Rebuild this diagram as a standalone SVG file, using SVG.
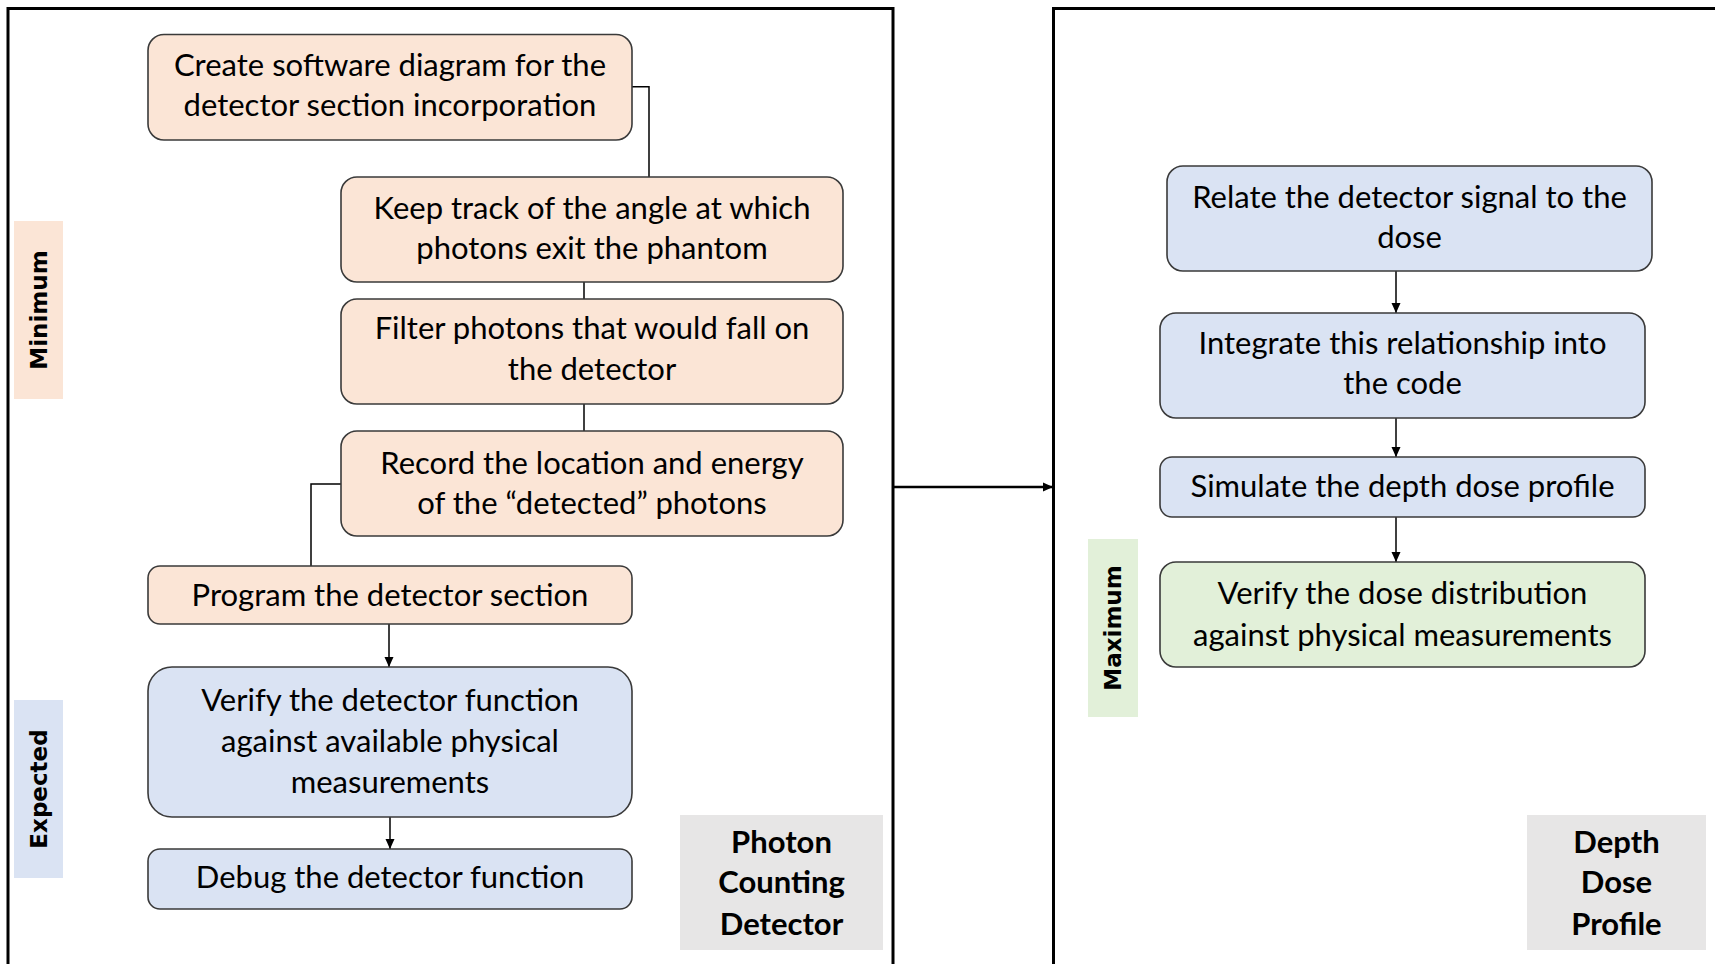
<svg xmlns="http://www.w3.org/2000/svg" width="1715" height="964" viewBox="0 0 1715 964">
<defs>
<marker id="ah" markerUnits="userSpaceOnUse" markerWidth="10" markerHeight="10" viewBox="0 0 10 10" refX="10" refY="5" orient="auto">
<path d="M0,0.5 L10,5 L0,9.5 Z" fill="#000"/>
</marker>
<style>
.frame{fill:none;stroke:#000;stroke-width:3}
.n{stroke:#3a3a3a;stroke-width:1.6}
.peach{fill:#FBE5D6}
.blue{fill:#DAE3F3}
.green{fill:#E2F0D9}
.grey{fill:#E7E6E6}
.t{font-family:Lato,"Liberation Sans",sans-serif;font-size:31px;fill:#000;text-anchor:middle;dominant-baseline:central}
.b{font-weight:bold}
.side{font-family:"DejaVu Sans",Verdana,sans-serif;font-weight:bold;font-size:23px;fill:#000;text-anchor:middle;dominant-baseline:central}
.c{fill:none;stroke:#000;stroke-width:1.5}
.ca{fill:none;stroke:#000;stroke-width:1.5;marker-end:url(#ah)}
</style>
</defs>
<rect class="frame" x="8" y="8.5" width="885" height="980"/>
<rect class="frame" x="1053.5" y="8.5" width="700" height="980"/>

<g id="connectors">
<path class="c" d="M632,86.7 H649 V177"/>
<path class="c" d="M584,282 V299"/>
<path class="c" d="M584,404 V431"/>
<path class="c" d="M341,484 H311 V566"/>
<path class="ca" d="M389,624 V667"/>
<path class="ca" d="M390,817 V849"/>
<path class="ca" d="M1396,271 V313"/>
<path class="ca" d="M1396,418 V457"/>
<path class="ca" d="M1396,517 V562"/>
<path class="ca" style="stroke-width:2.5" d="M893,487 H1053"/>
</g>

<g id="label-minimum"><rect class="peach" x="14" y="221" width="49" height="178"/><text class="side" transform="translate(38.5,310) rotate(-90)">Minimum</text></g>
<g id="label-expected"><rect class="blue" x="14" y="700" width="49" height="178"/><text class="side" transform="translate(38.5,789) rotate(-90)">Expected</text></g>
<g id="label-maximum"><rect class="green" x="1088" y="539" width="50" height="178"/><text class="side" transform="translate(1113,628) rotate(-90)">Maximum</text></g>

<g id="n1"><rect class="n peach" x="148" y="34.5" width="484" height="105.5" rx="16"/><text class="t"><tspan x="390" y="63.6">Create software diagram for the</tspan><tspan x="390" y="104">detector section incorporation</tspan></text></g>
<g id="n2"><rect class="n peach" x="341" y="177" width="502" height="105" rx="16"/><text class="t"><tspan x="592" y="207">Keep track of the angle at which</tspan><tspan x="592" y="247.4">photons exit the phantom</tspan></text></g>
<g id="n3"><rect class="n peach" x="341" y="299" width="502" height="105" rx="16"/><text class="t"><tspan x="592" y="327.2">Filter photons that would fall on</tspan><tspan x="592" y="367.7">the detector</tspan></text></g>
<g id="n4"><rect class="n peach" x="341" y="431" width="502" height="105" rx="16"/><text class="t"><tspan x="592" y="461.8">Record the location and energy</tspan><tspan x="592" y="502.2">of the “detected” photons</tspan></text></g>
<g id="n5"><rect class="n peach" x="148" y="566" width="484" height="58" rx="12"/><text class="t" x="390" y="594">Program the detector section</text></g>
<g id="n6"><rect class="n blue" x="148" y="667" width="484" height="150" rx="24"/><text class="t"><tspan x="390" y="699">Verify the detector function</tspan><tspan x="390" y="739.6">against available physical</tspan><tspan x="390" y="781">measurements</tspan></text></g>
<g id="n7"><rect class="n blue" x="148" y="849" width="484" height="60" rx="12"/><text class="t" x="390" y="876.3">Debug the detector function</text></g>

<g id="r1"><rect class="n blue" x="1167" y="166" width="485" height="105" rx="16"/><text class="t"><tspan x="1409.5" y="196">Relate the detector signal to the</tspan><tspan x="1409.5" y="236.4">dose</tspan></text></g>
<g id="r2"><rect class="n blue" x="1160" y="313" width="485" height="105" rx="16"/><text class="t"><tspan x="1402.5" y="341.5">Integrate this relationship into</tspan><tspan x="1402.5" y="382">the code</tspan></text></g>
<g id="r3"><rect class="n blue" x="1160" y="457" width="485" height="60" rx="12"/><text class="t" x="1402.5" y="484.7">Simulate the depth dose profile</text></g>
<g id="r4"><rect class="n green" x="1160" y="562" width="485" height="105" rx="16"/><text class="t"><tspan x="1402.5" y="592">Verify the dose distribution</tspan><tspan x="1402.5" y="633.5">against physical measurements</tspan></text></g>

<g id="title-left"><rect class="grey" x="680" y="815" width="203" height="135"/><text class="t b"><tspan x="781.5" y="840.5">Photon</tspan><tspan x="781.5" y="881.2">Counting</tspan><tspan x="781.5" y="922.8">Detector</tspan></text></g>
<g id="title-right"><rect class="grey" x="1527" y="815" width="179" height="135"/><text class="t b"><tspan x="1616.5" y="840.5">Depth</tspan><tspan x="1616.5" y="881.2">Dose</tspan><tspan x="1616.5" y="922.8">Profile</tspan></text></g>
</svg>
